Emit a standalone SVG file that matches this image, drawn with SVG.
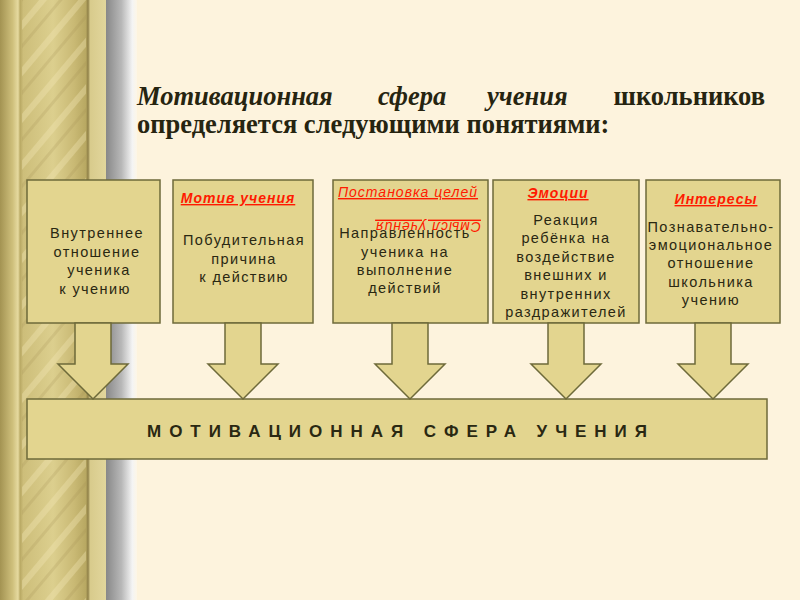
<svg xmlns="http://www.w3.org/2000/svg" width="800" height="600" viewBox="0 0 800 600">
  <defs>
    <linearGradient id="pillar" x1="0" y1="0" x2="1" y2="0">
      <stop offset="0" stop-color="#a39352"/>
      <stop offset="0.12" stop-color="#cfc07c"/>
      <stop offset="0.17" stop-color="#e6daa0"/>
      <stop offset="0.19" stop-color="#b9a964"/>
      <stop offset="0.22" stop-color="#cdbe7a"/>
      <stop offset="0.5" stop-color="#dccf8e"/>
      <stop offset="0.7" stop-color="#c9b974"/>
      <stop offset="0.81" stop-color="#b8a862"/>
      <stop offset="0.83" stop-color="#8f8048"/>
      <stop offset="0.85" stop-color="#d8cb8c"/>
      <stop offset="1" stop-color="#e2d69c"/>
    </linearGradient>
    <linearGradient id="shade" x1="0" y1="0" x2="1" y2="0">
      <stop offset="0" stop-color="#888888"/>
      <stop offset="0.5" stop-color="#b8b8b8"/>
      <stop offset="0.85" stop-color="#f4f4f4"/>
      <stop offset="1" stop-color="#fdf6e6"/>
    </linearGradient>
    <pattern id="stripes" width="30" height="30" patternUnits="userSpaceOnUse" patternTransform="rotate(40)">
      <rect x="0" y="0" width="6" height="30" fill="#f2e8b8" opacity="0.35"/>
      <rect x="15" y="0" width="3" height="30" fill="#9e8e50" opacity="0.2"/>
    </pattern>
    <style>
      .box { fill: #e3d58f; stroke: #6e6a3a; stroke-width: 1.5; }
      .arrow { fill: #e3d58f; stroke: #6e6a3a; stroke-width: 1.5; stroke-linejoin: miter; }
      .t { font-family: "Liberation Sans", Arial, sans-serif; font-size: 14.5px; fill: #2a2812; text-anchor: middle; letter-spacing: 1.4px; }
      .h { font-family: "Liberation Sans", Arial, sans-serif; font-size: 14px; font-style: italic; fill: #ff1a00; text-anchor: middle; text-decoration: underline; letter-spacing: 1px; }
      .hb { font-weight: bold; }
      .title { font-family: "Liberation Serif", "Times New Roman", serif; font-size: 26.5px; font-weight: bold; fill: #262410; }
      .big { font-family: "Liberation Sans", Arial, sans-serif; font-size: 17px; font-weight: bold; fill: #2a2812; }
    </style>
  </defs>

  <!-- background -->
  <rect x="0" y="0" width="800" height="600" fill="#fdf3dd"/>
  <rect x="0" y="0" width="106" height="600" fill="url(#pillar)"/>
  <rect x="22" y="0" width="64" height="600" fill="url(#stripes)"/>
  <rect x="106" y="0" width="31" height="600" fill="url(#shade)"/>

  <!-- title -->
  <g id="title" class="title">
    <text x="137" y="105" font-style="italic">Мотивационная</text>
    <text x="378" y="105" font-style="italic">сфера</text>
    <text x="487" y="105" font-style="italic">учения</text>
    <text x="765" y="105" text-anchor="end">школьников</text>
    <text x="137" y="133">определяется следующими понятиями:</text>
  </g>

  <!-- nodes -->
  <g id="node1">
    <rect class="box" x="27" y="180" width="133" height="143"/>
    <text class="t" x="97" y="238">Внутреннее</text>
    <text class="t" x="97" y="257">отношение</text>
    <text class="t" x="99" y="275">ученика</text>
    <text class="t" x="95" y="294">к учению</text>
  </g>

  <g id="node2">
    <rect class="box" x="173" y="180" width="140" height="143"/>
    <text class="h hb" x="238" y="203">Мотив учения</text>
    <text class="t" x="244" y="245">Побудительная</text>
    <text class="t" x="244" y="264">причина</text>
    <text class="t" x="244" y="282">к действию</text>
  </g>

  <g id="node3">
    <rect class="box" x="333" y="180" width="155" height="143"/>
    <text class="h" x="408" y="197">Постановка целей</text>
    <text class="t" x="405" y="238">Направленность</text>
    <text class="t" x="405" y="257">ученика на</text>
    <text class="t" x="405" y="275">выполнение</text>
    <text class="t" x="405" y="293">действий</text>
    <text class="h" x="428" y="232" transform="rotate(180 428 227)">Смысл учения</text>
  </g>

  <g id="node4">
    <rect class="box" x="493" y="180" width="146" height="143"/>
    <text class="h hb" x="558" y="198">Эмоции</text>
    <text class="t" x="566" y="225">Реакция</text>
    <text class="t" x="566" y="243">ребёнка на</text>
    <text class="t" x="566" y="262">воздействие</text>
    <text class="t" x="566" y="280">внешних и</text>
    <text class="t" x="566" y="299">внутренних</text>
    <text class="t" x="566" y="317">раздражителей</text>
  </g>

  <g id="node5">
    <rect class="box" x="646" y="180" width="134" height="143"/>
    <text class="h hb" x="716" y="204">Интересы</text>
    <text class="t" x="711" y="232">Познавательно-</text>
    <text class="t" x="711" y="250">эмоциональное</text>
    <text class="t" x="711" y="268">отношение</text>
    <text class="t" x="711" y="287">школьника</text>
    <text class="t" x="711" y="305">учению</text>
  </g>

  <g id="node6">
    <rect class="box" x="27" y="399" width="740" height="60"/>
    <text class="big" x="147" y="437" textLength="500" lengthAdjust="spacing">МОТИВАЦИОННАЯ СФЕРА УЧЕНИЯ</text>
  </g>

  <!-- connectors -->
  <g id="connectors">
    <polygon class="arrow" points="75,323 75,364 58,364 93,399 128,364 111,364 111,323"/>
    <polygon class="arrow" points="225,323 225,364 208,364 243,399 278,364 261,364 261,323"/>
    <polygon class="arrow" points="392,323 392,364 375,364 410,399 445,364 428,364 428,323"/>
    <polygon class="arrow" points="548,323 548,364 531,364 566,399 601,364 584,364 584,323"/>
    <polygon class="arrow" points="695,323 695,364 678,364 713,399 748,364 731,364 731,323"/>
  </g>
</svg>
